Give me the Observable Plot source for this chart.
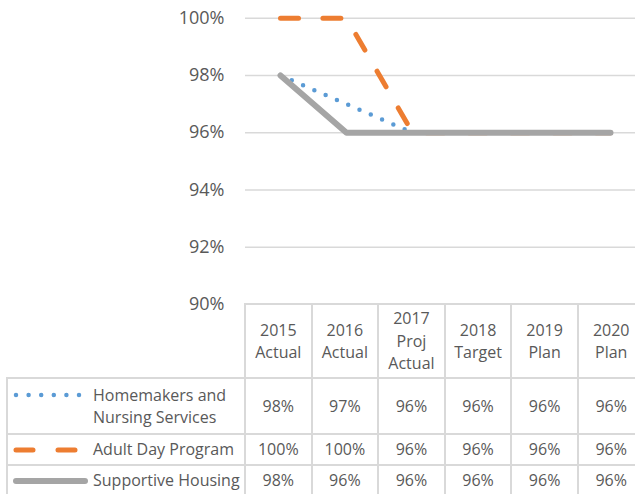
<!DOCTYPE html>
<html><head><meta charset="utf-8">
<script src="https://cdn.jsdelivr.net/npm/d3@7"></script>
<script src="https://cdn.jsdelivr.net/npm/@observablehq/plot@0.6"></script>
<style>
body{margin:0;background:#fff;}
#wrap{position:relative;width:635px;height:494px;overflow:hidden;font-family:"Open Sans",sans-serif;color:#595959;background:#fff;}
#chart{position:absolute;left:0;top:0;width:645px;}
#chart svg{max-width:none !important;}
.ln{position:absolute;background:#d9d9d9;}
.cell{position:absolute;display:flex;flex-direction:column;align-items:center;justify-content:center;text-align:center;font-size:16px;line-height:22.4px;white-space:nowrap;}
.leg{position:absolute;font-size:16px;line-height:22.4px;white-space:nowrap;display:flex;flex-direction:column;justify-content:center;}
.sw{position:absolute;}
</style></head><body><div id="wrap"><div id="chart"></div></div>
<script>
// ---- data ----
const categories = ["2015 Actual", "2016 Actual", "2017 Proj Actual", "2018 Target", "2019 Plan", "2020 Plan"];
const headerLines = [["2015", "Actual"], ["2016", "Actual"], ["2017", "Proj", "Actual"], ["2018", "Target"], ["2019", "Plan"], ["2020", "Plan"]];
const seriesNames = ["Homemakers and Nursing Services", "Adult Day Program", "Supportive Housing"];
const legendLines = [["Homemakers and", "Nursing Services"], ["Adult Day Program"], ["Supportive Housing"]];
const homemakers = [0.98, 0.97, 0.96, 0.96, 0.96, 0.96];
const adultDay = [1.00, 1.00, 0.96, 0.96, 0.96, 0.96];
const supportive = [0.98, 0.96, 0.96, 0.96, 0.96, 0.96];
const yTicks = [0.90, 0.92, 0.94, 0.96, 0.98, 1.00];

// ---- styles ----
const colors = ["#5b9bd5", "#ed7d31", "#a5a5a5"];
const widths = [4.5, 5, 6];
const dashes = ["0 12.3", "18 24.4", null];
const allValues = [homemakers, adultDay, supportive];

const X0 = 245, X1 = 644.5, Y0 = 304, Ytop = 17.7;
const fmt = d3.format(".0%");

const rows = (vals, name) => categories.map((c, i) => ({category: c, value: vals[i], series: name}));

const plot = Plot.plot({
  width: 645, height: 306,
  marginLeft: X0, marginRight: 0, marginTop: 0, marginBottom: 0,
  x: {type: "point", domain: categories, range: [X0, X1], padding: 0.5, axis: null},
  y: {domain: [0.90, 1.00], range: [Y0, Ytop], ticks: yTicks, tickFormat: fmt, tickSize: 0, tickPadding: 21, label: null},
  style: {fontFamily: '"Open Sans", sans-serif', fontSize: "18px", color: "#595959", background: "transparent", overflow: "visible", maxWidth: "none"},
  marks: [
    Plot.gridY(yTicks.filter(d => d > 0.90), {stroke: "#d9d9d9", strokeOpacity: 1, strokeWidth: 1.5}),
    ...allValues.map((vals, k) => Plot.line(rows(vals, seriesNames[k]), {
      x: "category", y: "value", stroke: colors[k], strokeWidth: widths[k],
      strokeDasharray: dashes[k], strokeLinecap: "round", strokeLinejoin: "round"
    }))
  ]
});
plot.style.maxWidth = "none";
const wrap = document.getElementById("wrap");
document.getElementById("chart").appendChild(plot);

// ---- data table ----
const colW = (X1 - X0) / categories.length;
const legLeft = 7;
const rowEdges = [Y0, 378, 434, 465, 496];
const lw = 2;
function line(x, y, w, h) {
  const d = document.createElement("div");
  d.className = "ln";
  Object.assign(d.style, {left: x + "px", top: y + "px", width: w + "px", height: h + "px"});
  wrap.appendChild(d);
}
// horizontal
line(X0 - lw / 2, rowEdges[0] - lw / 2, 660 - X0, lw);
for (let r = 1; r < rowEdges.length; r++) line(legLeft - lw / 2, rowEdges[r] - lw / 2, 660 - legLeft, lw);
// vertical
for (let i = 0; i <= categories.length; i++) line(X0 + i * colW - lw / 2, rowEdges[0] - lw / 2, lw, 200);
line(legLeft - lw / 2, rowEdges[1] - lw / 2, lw, 200);

function cell(cls, x, y, w, h, lines) {
  const d = document.createElement("div");
  d.className = cls;
  Object.assign(d.style, {left: x + "px", top: y + "px", width: w + "px", height: h + "px"});
  lines.forEach(t => { const s = document.createElement("div"); s.textContent = t; d.appendChild(s); });
  wrap.appendChild(d);
  return d;
}
// header
categories.forEach((c, i) => cell("cell", X0 + i * colW, rowEdges[0], colW, rowEdges[1] - rowEdges[0], headerLines[i]));
// rows
allValues.forEach((vals, r) => {
  const top = rowEdges[r + 1], h = rowEdges[r + 2] - top;
  vals.forEach((v, i) => cell("cell", X0 + i * colW, top, colW, h, [fmt(v)]));
  cell("leg", 93, top, X0 - 93, h, legendLines[r]);
  // swatch aligned with first text line
  const n = legendLines[r].length;
  const cy = top + h / 2 - (n - 1) * 11.2;
  const ns = "http://www.w3.org/2000/svg";
  const svg = document.createElementNS(ns, "svg");
  svg.setAttribute("class", "sw");
  svg.setAttribute("width", 80); svg.setAttribute("height", 12);
  svg.style.left = "12px"; svg.style.top = (cy - 6) + "px";
  const l = document.createElementNS(ns, "line");
  l.setAttribute("x1", 4); l.setAttribute("y1", 6);
  l.setAttribute("x2", r === 0 ? 68 : (r === 1 ? 66 : 73)); l.setAttribute("y2", 6);
  l.setAttribute("stroke", colors[r]); l.setAttribute("stroke-width", widths[r]);
  l.setAttribute("stroke-linecap", "round");
  if (r === 0) l.setAttribute("stroke-dasharray", "0 12.6");
  if (r === 1) l.setAttribute("stroke-dasharray", "17 25");
  svg.appendChild(l);
  wrap.appendChild(svg);
});
</script></body></html>
